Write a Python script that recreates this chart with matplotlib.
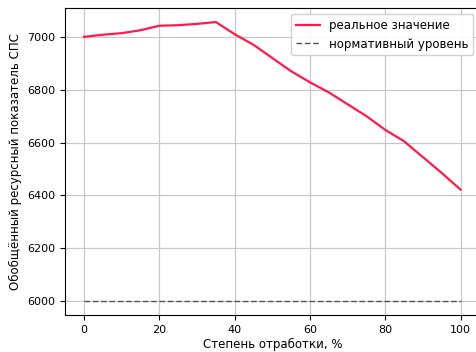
import numpy as np
import matplotlib.pyplot as plt

# степень отработки, %
x = [0, 5, 10, 15, 20, 25, 30, 35, 40, 45, 50, 55, 60, 65, 70, 75, 80, 85, 90, 95, 100]
# обобщённый ресурсный показатель СПС
real = [7000, 7008, 7014, 7025, 7042, 7044, 7049, 7056, 7010, 6970, 6920, 6870,
        6828, 6790, 6745, 6700, 6648, 6605, 6545, 6485, 6422]
norm_level = 6000

fig = plt.figure(figsize=(4.76, 3.52), dpi=100)
ax = fig.add_axes([0.137, 0.105, 0.87, 0.872])

ax.plot(x, real, color='#ff1a4a', lw=1.6, label='реальное значение')
ax.plot([x[0], x[-1]], [norm_level, norm_level], color='#555555', lw=1.0,
        ls=(0, (4, 2)), label='нормативный уровень')

ax.set_xticks([0, 20, 40, 60, 80, 100])
ax.set_yticks([6000, 6200, 6400, 6600, 6800, 7000])
ax.tick_params(labelsize=8)
ax.grid(True, color='#c8c8c8', lw=0.9)
ax.set_xlabel('Степень отработки, %', fontsize=8.5, labelpad=2)
ax.set_ylabel('Обобщённый ресурсный показатель СПС', fontsize=8.5)
ax.legend(loc='upper right', fontsize=8.5, framealpha=0.9)

fig.savefig('out.png', dpi=100)
